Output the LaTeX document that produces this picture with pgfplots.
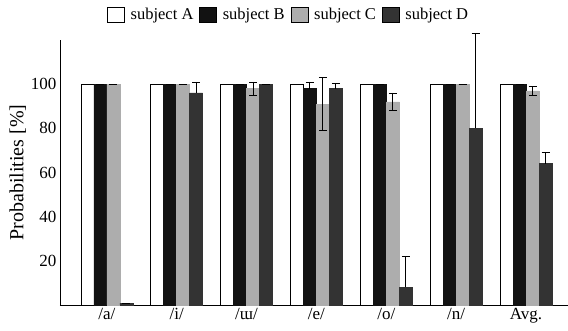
\documentclass[border=0pt]{standalone}
\usepackage{fontspec}
\setmainfont{Liberation Serif}
\usepackage{pgfplots}
\pgfplotsset{compat=1.18}
\usetikzlibrary{calc}
\definecolor{cC}{gray}{0.68}
\definecolor{cD}{gray}{0.2}
\definecolor{cB}{gray}{0.07}
\begin{document}
\begin{tikzpicture}
\begin{axis}[
  name=ax,
  scale only axis,
  width=508pt, height=265pt,
  ybar=0pt, bar width=13pt,
  xmin=-0.67, xmax=6.6,
  ymin=0, ymax=120,
  clip=false,
  axis x line=bottom, axis y line=left,
  axis line style={-, line width=0.8pt},
  xtick=data,
  xticklabels={/a/, /i/, /ɯ/, /e/, /o/, /n/, Avg.},
  ytick={20,40,60,80,100},
  major tick length=0pt,
  ticklabel style={font=\fontsize{17}{17}\selectfont},
  /pgf/number format/assume math mode=true,
  ylabel={Probabilities [\%]},
  ylabel style={font=\fontsize{20}{20}\selectfont, at={(axis description cs:-0.083,0.5)}, anchor=center},
  legend columns=4,
  legend style={draw=none, fill=none, at={(axis description cs:0.45,1)}, anchor=center, yshift=25pt,
    font=\fontsize{16.5}{16.5}\selectfont, column sep=4pt, inner sep=0pt},
  legend image code/.code={\draw[#1, draw=black] (0pt,-7.5pt) rectangle (17pt,7.5pt);},
  error bars/error bar style={black, line width=0.9pt},
  error bars/error mark options={rotate=90, mark size=4pt, black, line width=0.9pt},
]
\addplot[fill=white, draw=black, line width=0.6pt] coordinates {(0,100) (1,100) (2,100) (3,100) (4,100) (5,100) (6,100)};
\addplot[fill=cB, draw=cB, error bars/.cd, y dir=plus, y explicit] coordinates {
  (0,100) +- (0,0) (1,100) +- (0,0) (2,100) +- (0,0) (3,98) +- (0,3) (4,100) +- (0,0) (5,100) +- (0,0) (6,100) +- (0,0)};
\addplot[fill=cC, draw=cC, error bars/.cd, y dir=both, y explicit] coordinates {
  (0,100) +- (0,0) (1,100) +- (0,0) (2,98) +- (0,3) (3,91) +- (0,12) (4,92) +- (0,4) (5,100) +- (0,0) (6,97) +- (0,2)};
\addplot[fill=cD, draw=cD, error bars/.cd, y dir=plus, y explicit] coordinates {
  (0,0.8) +- (0,0) (1,96) +- (0,5) (2,100) +- (0,0) (3,98) +- (0,2.5) (4,8) +- (0,14) (5,80) +- (0,43) (6,64) +- (0,5)};
\legend{subject A, subject B, subject C, subject D}
\end{axis}
\pgfresetboundingbox
\path ($(ax.south west)+(-60pt,-26pt)$) rectangle ($(ax.north east)+(0pt,40pt)$);
\end{tikzpicture}
\end{document}
